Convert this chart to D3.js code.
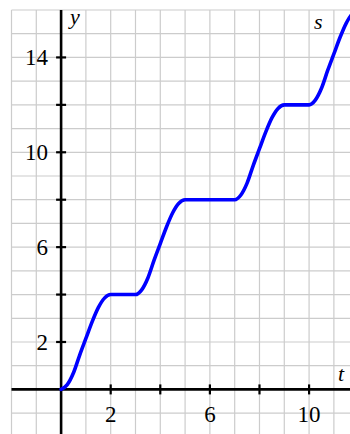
<!DOCTYPE html>
<html>
<head>
<meta charset="utf-8">
<script src="https://cdn.jsdelivr.net/npm/d3@7"></script>
<style>
  html, body { margin: 0; padding: 0; background: #fff; }
  svg { display: block; }
  text { font-family: "Liberation Serif", "Times New Roman", serif; fill: #000; }
</style>
</head>
<body>
<svg id="chart" width="350" height="434"></svg>
<script>
// Position s(t): rises of 4 units separated by rests
const tValues = [
  0, 0.25, 0.5, 0.75, 1, 1.25, 1.5, 1.75, 2,
  2.25, 2.5, 2.75, 3,
  3.25, 3.5, 3.75, 4, 4.25, 4.5, 4.75, 5,
  5.25, 5.5, 5.75, 6, 6.25, 6.5, 6.75, 7,
  7.25, 7.5, 7.75, 8, 8.25, 8.5, 8.75, 9,
  9.25, 9.5, 9.75, 10,
  10.25, 10.5, 10.75, 11, 11.25, 11.5, 11.75, 12
];
const sValues = [
  0, 0.2, 0.7, 1.45, 2.15, 2.85, 3.45, 3.85, 4,
  4, 4, 4, 4,
  4.2, 4.7, 5.45, 6.15, 6.85, 7.45, 7.85, 8,
  8, 8, 8, 8, 8, 8, 8, 8,
  8.2, 8.7, 9.45, 10.15, 10.85, 11.45, 11.85, 12,
  12, 12, 12, 12,
  12.2, 12.7, 13.45, 14.15, 14.85, 15.45, 15.85, 16
];

// Axis ticks and labels
const xTicks = [2, 4, 6, 8, 10];
const xTickLabels = ["2", "", "6", "", "10"];
const yTicks = [2, 4, 6, 8, 10, 12, 14];
const yTickLabels = ["2", "", "6", "", "10", "", "14"];
const xGrid = d3.range(-2, 12, 1);
const yGrid = d3.range(-1, 17, 1);

const W = 350, H = 434;
const svg = d3.select("#chart");

const x = d3.scaleLinear().domain([-2, 11.65]).range([11.5, W]);
const y = d3.scaleLinear().domain([-1.88, 16]).range([H, 10]);

// Grid
const grid = svg.append("g").attr("stroke", "#cccccc").attr("stroke-width", 1.2);
grid.selectAll("line.v").data(xGrid).join("line")
  .attr("x1", d => x(d)).attr("x2", d => x(d))
  .attr("y1", y(16)).attr("y2", H);
grid.selectAll("line.h").data(yGrid).join("line")
  .attr("y1", d => y(d)).attr("y2", d => y(d))
  .attr("x1", x(-2)).attr("x2", W);

// Axes through the origin
const axes = svg.append("g").attr("stroke", "#000").attr("stroke-width", 2.6);
axes.append("line").attr("x1", x(-2)).attr("x2", W).attr("y1", y(0)).attr("y2", y(0));
axes.append("line").attr("x1", x(0)).attr("x2", x(0)).attr("y1", y(16)).attr("y2", H);

// Ticks crossing the axes
const tk = 5;
svg.append("g").attr("stroke", "#000").attr("stroke-width", 2.2)
  .selectAll("line").data(xTicks).join("line")
  .attr("x1", d => x(d)).attr("x2", d => x(d))
  .attr("y1", y(0) - tk).attr("y2", y(0) + tk);
svg.append("g").attr("stroke", "#000").attr("stroke-width", 2.2)
  .selectAll("line").data(yTicks).join("line")
  .attr("y1", d => y(d)).attr("y2", d => y(d))
  .attr("x1", x(0) - tk).attr("x2", x(0) + tk);

// Tick labels
svg.append("g").selectAll("text").data(xTicks).join("text")
  .attr("x", d => x(d)).attr("y", y(0) + 33)
  .attr("text-anchor", "middle").attr("font-size", 23)
  .text((d, i) => xTickLabels[i]);
svg.append("g").selectAll("text").data(yTicks).join("text")
  .attr("x", x(0) - 13).attr("y", d => y(d) + 8)
  .attr("text-anchor", "end").attr("font-size", 23)
  .text((d, i) => yTickLabels[i]);

// Axis names
svg.append("text").attr("x", x(0) + 9).attr("y", 24)
  .attr("font-size", 22).attr("font-style", "italic").text("y");
svg.append("text").attr("x", x(11.65) - 12).attr("y", y(0) - 8)
  .attr("font-size", 22).attr("font-style", "italic").text("t");

// Curve, clipped to the plotting area
svg.append("clipPath").attr("id", "plot-clip")
  .append("rect").attr("x", x(-2)).attr("y", y(16)).attr("width", W - x(-2)).attr("height", H - y(16));

const pts = tValues.map((t, i) => [t, sValues[i]]);
const line = d3.line().x(d => x(d[0])).y(d => y(d[1])).curve(d3.curveMonotoneX);
svg.append("path").datum(pts)
  .attr("clip-path", "url(#plot-clip)")
  .attr("fill", "none").attr("stroke", "#0000ff").attr("stroke-width", 3.6)
  .attr("stroke-linejoin", "round").attr("stroke-linecap", "round")
  .attr("d", line);

svg.append("text").attr("x", x(10.2)).attr("y", 29)
  .attr("font-size", 22).attr("font-style", "italic").text("s");
</script>
</body>
</html>
